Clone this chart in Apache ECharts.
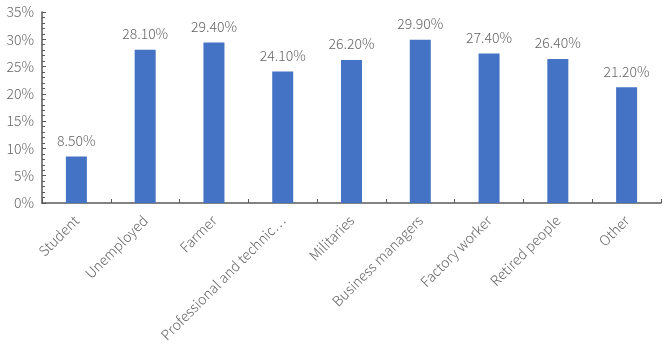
<!DOCTYPE html>
<html>
<head>
<meta charset="utf-8">
<script src="https://cdn.jsdelivr.net/npm/echarts@6/dist/echarts.min.js"></script>
<style>
  html, body { margin: 0; padding: 0; background: #fff; }
  #chart { width: 669px; height: 345px; }
</style>
</head>
<body>
<div id="chart"></div>
<script>
const categories = ['Student', 'Unemployed', 'Farmer', 'Professional and technical personnel',
  'Militaries', 'Business managers', 'Factory worker', 'Retired people', 'Other']
const shares = [8.5, 28.1, 29.4, 24.1, 26.2, 29.9, 27.4, 26.4, 21.2]
const yTicks = { min: 0, max: 35, step: 5 }

const chart = echarts.init(document.getElementById('chart'))
const textColor = '#666'
const font = '"Noto Sans CJK SC", "Noto Sans", sans-serif'

chart.setOption({
  animation: false,
  textStyle: { fontFamily: font, color: textColor },
  grid: { left: 42, right: 8, top: 12, bottom: 142, containLabel: false, outerBoundsMode: 'none' },
  xAxis: {
    type: 'category',
    data: categories,
    axisLine: { lineStyle: { color: '#595959', width: 1.5 } },
    axisTick: { show: true, inside: true, interval: 0, length: 4, lineStyle: { color: '#595959' } },
    axisLabel: {
      interval: 0,
      rotate: 45,
      fontSize: 14,
      fontWeight: 300,
      color: textColor,
      fontFamily: font,
      margin: 15,
      width: 172,
      overflow: 'truncate',
      ellipsis: '…'
    }
  },
  yAxis: {
    type: 'value',
    min: yTicks.min,
    max: yTicks.max,
    interval: yTicks.step,
    axisLine: { show: true, lineStyle: { color: '#595959', width: 1.5 } },
    axisTick: { show: true, inside: true, length: 4, lineStyle: { color: '#595959' } },
    minorTick: { show: true, splitNumber: 5, length: 3, lineStyle: { color: '#595959' } },
    splitLine: { show: false },
    axisLabel: { formatter: '{value}%', fontSize: 14, fontWeight: 300, color: textColor, fontFamily: font, margin: 8 }
  },
  series: [{
    type: 'bar',
    data: shares,
    barWidth: 21,
    itemStyle: { color: '#4472C4' },
    label: {
      show: true,
      position: 'top',
      distance: 9,
      fontSize: 14,
      fontWeight: 300,
      color: textColor,
      fontFamily: font,
      formatter: p => p.value.toFixed(2) + '%'
    }
  }]
})
</script>
</body>
</html>
